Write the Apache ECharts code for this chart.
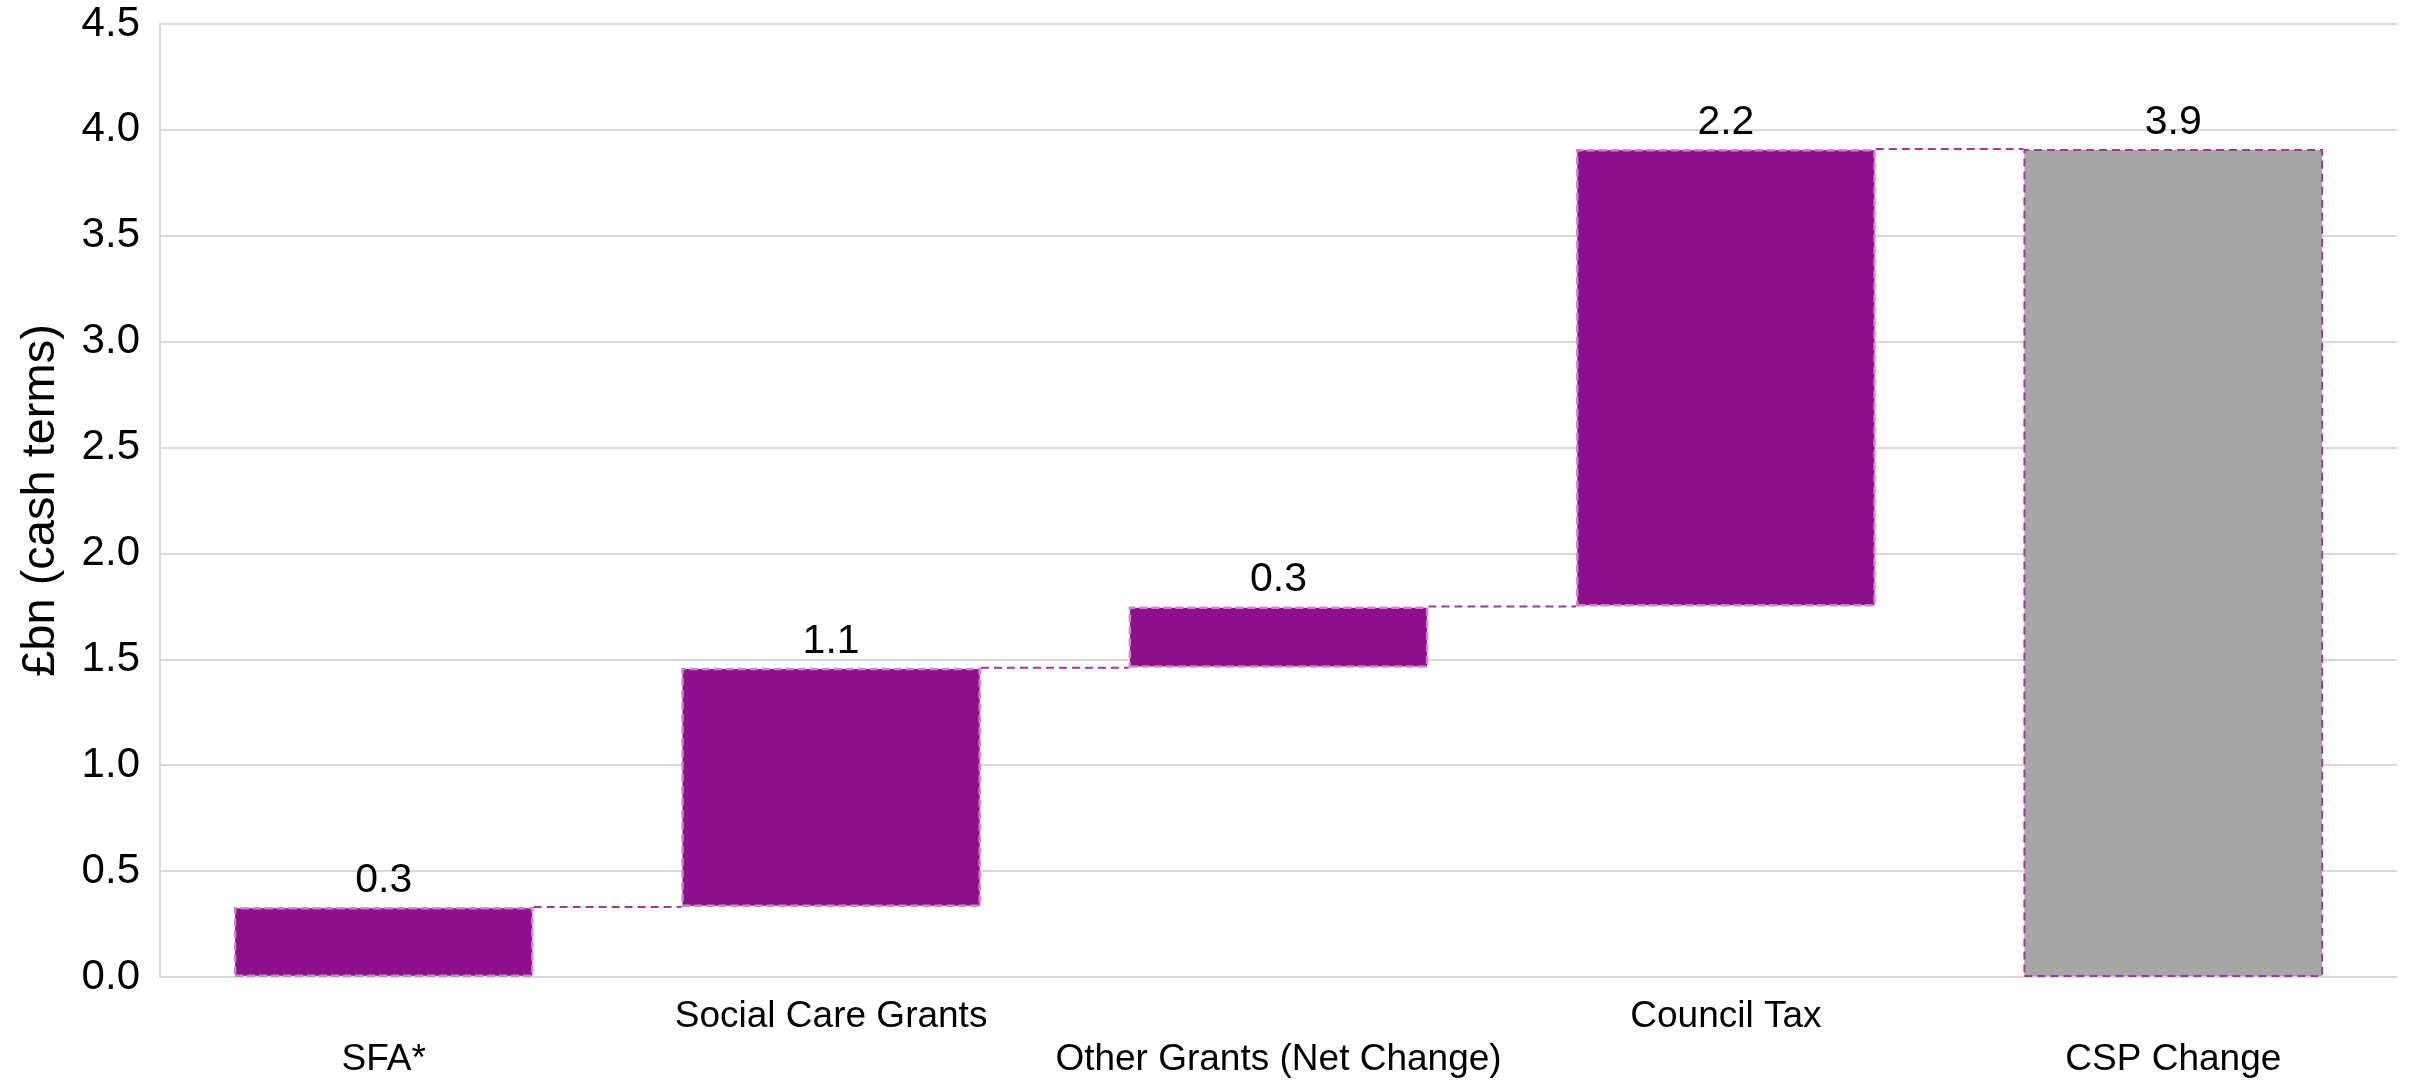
<!DOCTYPE html>
<html>
<head>
<meta charset="utf-8">
<script src="https://cdn.jsdelivr.net/npm/echarts@6/dist/echarts.min.js"></script>
<style>
html,body{margin:0;padding:0;background:#fff;}
#chart{width:2413px;height:1083px;}
</style>
</head>
<body>
<div id="chart"></div>
<script>
var categories = ['SFA*', 'Social Care Grants', 'Other Grants (Net Change)', 'Council Tax', 'CSP Change'];
var changes = [0.33, 1.13, 0.29, 2.16];
var total = 3.91;
var yTicks = { min: 0, max: 4.5, interval: 0.5 };

var BAR_PCT = 0.67;
var purple = '#8E0E8C';
var grey = '#A6A6A6';

// build stacked waterfall data
var base = [], vals = [], connectors = [];
var run = 0;
for (var i = 0; i < changes.length; i++) {
  base.push(run);
  vals.push({ value: changes[i], itemStyle: { color: purple, borderColor: '#cf86cf', borderType: [8, 4], borderWidth: 2.5 } });
  run += changes[i];
  connectors.push([i, run]);
}
base.push(0);
vals.push({ value: total, itemStyle: { color: grey, borderColor: '#A535A5', borderType: [8, 5], borderWidth: 2 } });

var chart = echarts.init(document.getElementById('chart'));
var font = 'Liberation Sans, Arial, sans-serif';
chart.setOption({
  animation: false,
  textStyle: { fontFamily: font },
  grid: { left: 160, right: 16, top: 24, bottom: 106, containLabel: false },
  xAxis: {
    type: 'category',
    data: categories,
    axisLine: { show: true, lineStyle: { color: '#d9d9d9', width: 2 } },
    axisTick: { show: false },
    axisLabel: {
      interval: 0,
      color: '#000',
      fontSize: 37,
      fontFamily: font,
      lineHeight: 43,
      margin: 18,
      formatter: function (v, idx) { return idx % 2 === 1 ? v + '\n ' : ' \n' + v; }
    }
  },
  yAxis: {
    type: 'value',
    min: yTicks.min, max: yTicks.max, interval: yTicks.interval,
    name: '£bn (cash terms)',
    nameLocation: 'middle',
    nameRotate: 90,
    nameGap: 95,
    nameTextStyle: { color: '#000', fontSize: 47, fontFamily: font },
    axisLine: { show: true, lineStyle: { color: '#d9d9d9', width: 2 } },
    axisTick: { show: false },
    splitLine: { show: true, lineStyle: { color: '#d9d9d9', width: 2 } },
    axisLabel: {
      color: '#000', fontSize: 42, fontFamily: font, margin: 20,
      formatter: function (v) { return v.toFixed(1); }
    }
  },
  series: [
    {
      type: 'bar', stack: 'w', data: base, barWidth: (BAR_PCT * 100) + '%',
      itemStyle: { color: 'transparent', borderColor: 'transparent' },
      silent: true
    },
    {
      type: 'bar', stack: 'w', data: vals, barWidth: (BAR_PCT * 100) + '%',
      label: {
        show: true, position: 'top', distance: 6, color: '#000', fontSize: 41, fontFamily: font,
        formatter: function (p) { return p.value.toFixed(1); }
      }
    },
    {
      type: 'custom',
      data: connectors,
      z: 5,
      renderItem: function (params, api) {
        var i = api.value(0), y = api.value(1);
        var p1 = api.coord([i, y]);
        var p2 = api.coord([i + 1, y]);
        var band = api.size([1, 0])[0];
        var half = band * BAR_PCT / 2;
        return {
          type: 'line',
          shape: { x1: p1[0] + half, y1: p1[1], x2: p2[0] - half, y2: p2[1] },
          style: { stroke: '#A535A5', lineWidth: 2, lineDash: [8, 5] }
        };
      }
    }
  ]
});
</script>
</body>
</html>
